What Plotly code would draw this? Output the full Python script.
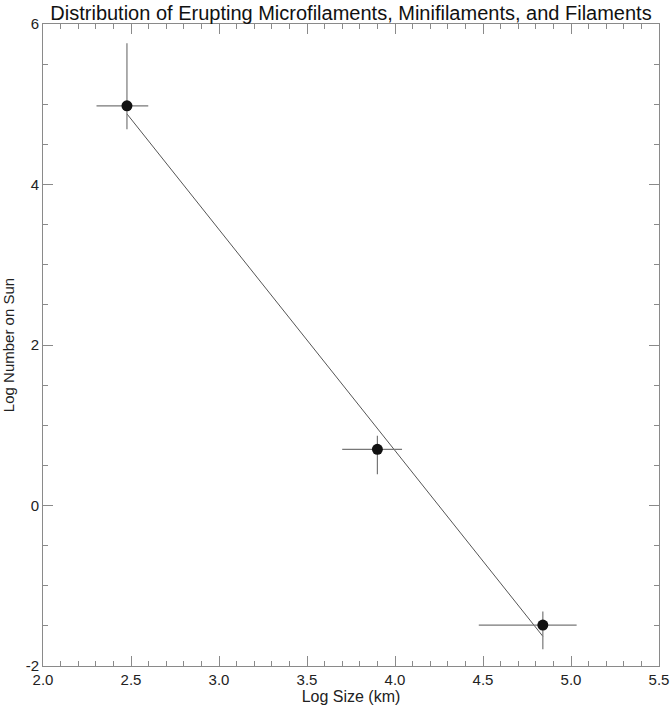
import plotly.graph_objects as go

# log size (km) and log number on sun
log_size = [2.477, 3.90, 4.84]
log_number = [4.98, 0.70, -1.49]
size_err_minus = [0.173, 0.20, 0.364]
size_err_plus = [0.121, 0.14, 0.192]
number_err_plus = [0.78, 0.17, 0.17]
number_err_minus = [0.29, 0.31, 0.30]

fit_x = [2.477, 4.84]
fit_y = [4.88, -1.63]

y_tickvals = [-2, 0, 2, 4, 6]
y_ticktext = ["-2", "0", "2", "4", "6"]

axis_gray = "#8a8a8a"
font_fam = "Liberation Sans, Arial, sans-serif"

fig = go.Figure()
fig.add_trace(
    go.Scatter(
        x=fit_x,
        y=fit_y,
        mode="lines",
        line=dict(color="#555555", width=1),
        showlegend=False,
    )
)
fig.add_trace(
    go.Scatter(
        x=log_size,
        y=log_number,
        mode="markers",
        marker=dict(color="#111111", size=11),
        error_x=dict(
            type="data", symmetric=False, array=size_err_plus,
            arrayminus=size_err_minus, color="#777777", thickness=1.2, width=0,
        ),
        error_y=dict(
            type="data", symmetric=False, array=number_err_plus,
            arrayminus=number_err_minus, color="#777777", thickness=1.2, width=0,
        ),
        showlegend=False,
    )
)

fig.update_layout(
    width=671,
    height=707,
    paper_bgcolor="white",
    plot_bgcolor="white",
    margin=dict(l=43, r=12, t=24, b=41),
    font=dict(family=font_fam, size=15, color="#222222"),
    title=dict(
        text="Distribution of Erupting Microfilaments, Minifilaments, and Filaments",
        xref="paper",
        x=0.5,
        xanchor="center",
        y=0.982,
        yanchor="middle",
        font=dict(size=20, color="#111111"),
    ),
)
fig.update_xaxes(
    range=[2.0, 5.5],
    dtick=0.5,
    tick0=2.0,
    tickformat=".1f",
    ticks="inside",
    ticklen=10,
    tickcolor=axis_gray,
    minor=dict(dtick=0.1, ticks="inside", ticklen=5, tickcolor=axis_gray),
    showline=True,
    linecolor=axis_gray,
    linewidth=1,
    mirror="ticks",
    showgrid=False,
    zeroline=False,
    automargin=False,
    title=dict(text="Log Size (km)", standoff=2, font=dict(size=16)),
)
fig.update_yaxes(
    range=[-2, 6],
    tickvals=y_tickvals,
    ticktext=y_ticktext,
    ticks="inside",
    ticklen=10,
    tickcolor=axis_gray,
    minor=dict(dtick=0.5, ticks="inside", ticklen=5, tickcolor=axis_gray),
    showline=True,
    linecolor=axis_gray,
    linewidth=1,
    mirror="ticks",
    showgrid=False,
    zeroline=False,
    automargin=False,
    title=dict(text="Log Number on Sun", standoff=8, font=dict(size=15)),
)

# drop the page's default body margin so the figure sits at the window corner
fig.write_html(
    "out.html",
    config={"displayModeBar": False},
    post_script="document.body.style.margin='0';",
)
